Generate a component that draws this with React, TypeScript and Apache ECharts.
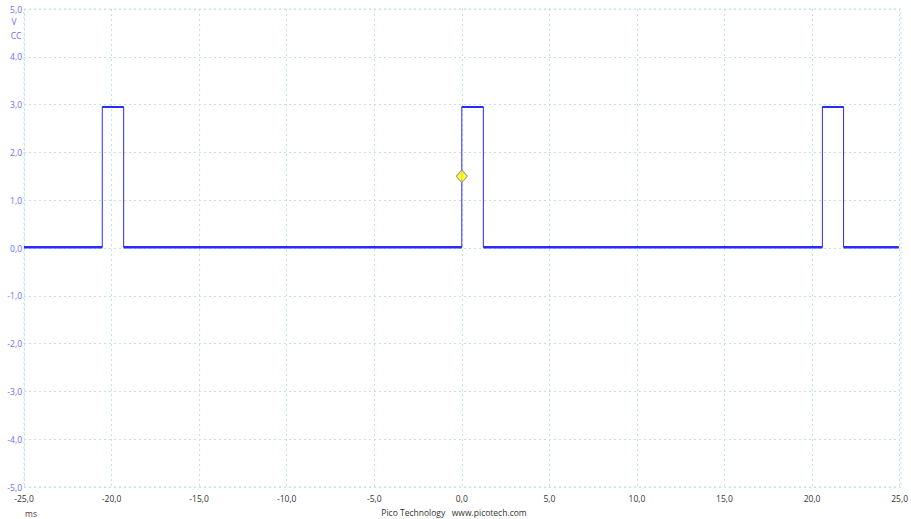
import React, { useEffect, useRef } from "react";
import * as echarts from "echarts";

// Time axis (ms) and voltage axis (V)
const xTicks = [-25, -20, -15, -10, -5, 0, 5, 10, 15, 20, 25];
const yTicks = [-5, -4, -3, -2, -1, 0, 1, 2, 3, 4, 5];
// Pulse edges (ms)
const riseTimes = [-20.53, 0.0, 20.59];
const fallTimes = [-19.31, 1.23, 21.8];
const highLevel = 2.95;
const lowLevel = 0.015;
const traceStart = -25;
const traceEnd = 24.95;
// Trigger marker
const trigger = [0, 1.5];

const fmt = (v: number) => v.toFixed(1).replace(".", ",");

function buildTrace() {
  const full: (number | null)[][] = [[traceStart, lowLevel]];
  const lows: (number | null)[][] = [[traceStart, lowLevel]];
  const highs: (number | null)[][] = [];
  for (let i = 0; i < riseTimes.length; i++) {
    full.push([riseTimes[i], lowLevel], [riseTimes[i], highLevel], [fallTimes[i], highLevel], [fallTimes[i], lowLevel]);
    lows.push([riseTimes[i], lowLevel], [null, null] as any, [fallTimes[i], lowLevel]);
    highs.push([riseTimes[i], highLevel], [fallTimes[i], highLevel], [null, null] as any);
  }
  full.push([traceEnd, lowLevel]);
  lows.push([traceEnd, lowLevel]);
  return { full, lows, highs };
}

export default function App() {
  const ref = useRef<HTMLDivElement>(null);
  useEffect(() => {
    if (!ref.current) return;
    const chart = echarts.init(ref.current, undefined, { renderer: "svg" });
    const { full, lows, highs } = buildTrace();
    const gridColor = "#bfe0ec";
    const font = "8.5px 'Open Sans'";
    chart.setOption({
      animation: false,
      backgroundColor: "#ffffff",
      grid: { left: 24, right: 10, top: 9, bottom: 32 },
      xAxis: {
        type: "value",
        min: xTicks[0],
        max: xTicks[xTicks.length - 1],
        interval: 5,
        axisLine: { show: false },
        axisTick: { show: false },
        splitLine: { show: true, lineStyle: { color: gridColor, type: [2, 3], width: 1 } },
        axisLabel: {
          formatter: (v: number) => fmt(v),
          color: "#333333",
          fontSize: 8.5,
          fontFamily: "Open Sans",
          margin: 7,
        },
      },
      yAxis: {
        type: "value",
        min: yTicks[0],
        max: yTicks[yTicks.length - 1],
        interval: 1,
        axisLine: { show: false },
        axisTick: { show: false },
        splitLine: { show: true, lineStyle: { color: gridColor, type: [2, 3], width: 1 } },
        axisLabel: {
          formatter: (v: number) => fmt(v),
          color: "#6b6bff",
          fontSize: 8.5,
          fontFamily: "Open Sans",
          margin: 2,
        },
      },
      graphic: [
        { type: "rect", shape: { x: 24, y: 9, width: 877, height: 478 }, style: { fill: "none", stroke: gridColor, lineDash: [2, 3], lineWidth: 1 }, silent: true },
        { type: "text", x: 14, y: 21, style: { text: "V", fill: "#6b6bff", font, align: "center", verticalAlign: "middle" } },
        { type: "text", x: 16, y: 35, style: { text: "CC", fill: "#6b6bff", font, align: "center", verticalAlign: "middle" } },
        { type: "text", x: 31, y: 513, style: { text: "ms", fill: "#5a3040", font, align: "center", verticalAlign: "middle" } },
        { type: "text", x: 454, y: 512, style: { text: "Pico Technology   www.picotech.com", fill: "#333333", font, align: "center", verticalAlign: "middle" } },
      ],
      series: [
        {
          type: "line",
          data: full,
          showSymbol: false,
          lineStyle: { color: "#2a2aff", width: 1 },
          silent: true,
        },
        {
          type: "line",
          data: lows,
          showSymbol: false,
          connectNulls: false,
          lineStyle: { color: "#2a2aff", width: 2.5 },
          silent: true,
        },
        {
          type: "line",
          data: highs,
          showSymbol: false,
          connectNulls: false,
          lineStyle: { color: "#2a2aff", width: 2 },
          silent: true,
        },
        {
          type: "scatter",
          data: [trigger],
          symbol: "diamond",
          symbolSize: [11, 13],
          itemStyle: { color: "#ffff00", borderColor: "#8080a0", borderWidth: 1 },
          silent: true,
          z: 10,
        },
      ],
    });
    return () => chart.dispose();
  }, []);
  return <div ref={ref} style={{ width: 911, height: 519, position: "absolute", left: 0, top: 0 }} />;
}
